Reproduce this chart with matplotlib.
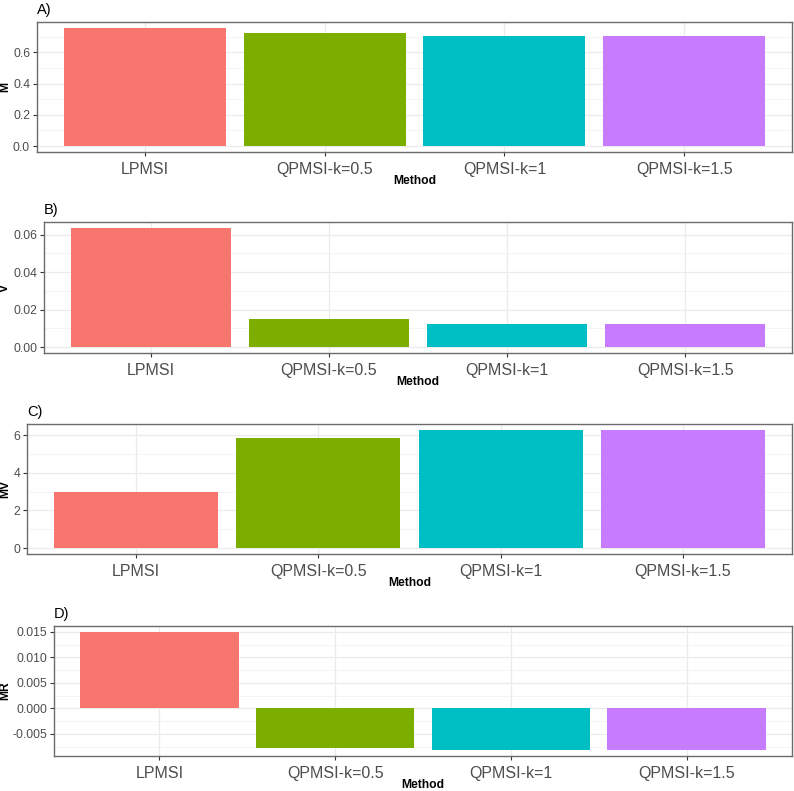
import numpy as np
import matplotlib
matplotlib.use("Agg")
import matplotlib.pyplot as plt
from matplotlib.ticker import MultipleLocator, FormatStrFormatter

plt.rcParams["font.family"] = ["Liberation Sans", "DejaVu Sans"]
plt.rcParams["axes.unicode_minus"] = False

methods = ["LPMSI", "QPMSI-k=0.5", "QPMSI-k=1", "QPMSI-k=1.5"]
colors = ["#F8766D", "#7CAE00", "#00BFC4", "#C77CFF"]

M = [0.757, 0.722, 0.704, 0.704]
V = [0.0635, 0.0150, 0.0125, 0.0125]
MV = [2.99, 5.86, 6.28, 6.28]
MR = [0.0150, -0.0077, -0.0082, -0.0082]

# panel: tag, y label, values, major step, minor step, tick format, box (left, top, right, bottom) in px
panels = [
    ("A)", "M", M, 0.2, 0.1, "%.1f", (37, 22, 792, 152)),
    ("B)", "V", V, 0.02, 0.01, "%.2f", (44, 222, 792, 353)),
    ("C)", "MV", MV, 2, 1, "%d", (27, 424, 792, 554)),
    ("D)", "MR", MR, 0.005, 0.0025, "%.3f", (54, 626, 792, 756)),
]

W, H = 794, 791
fig = plt.figure(figsize=(W / 100, H / 100), dpi=100)

border = "#6b6b6b"
for tag, ylab, vals, major, minor, fmt, (l, t, r, b) in panels:
    ax = fig.add_axes([l / W, 1 - b / H, (r - l) / W, (b - t) / H])
    x = np.arange(len(methods))
    ax.bar(x, vals, width=0.9, color=colors, zorder=3)

    lo = min(0, min(vals))
    hi = max(0, max(vals))
    pad = (hi - lo) * 0.05
    ax.set_ylim(lo - pad, hi + pad)
    ax.set_xlim(-0.6, len(methods) - 0.4)

    ax.set_xticks(x)
    ax.set_xticklabels(methods)
    ax.yaxis.set_major_locator(MultipleLocator(major))
    ax.yaxis.set_minor_locator(MultipleLocator(minor))
    ax.yaxis.set_major_formatter(FormatStrFormatter(fmt))

    ax.grid(which="major", color="#EBEBEB", linewidth=0.9, zorder=0)
    ax.grid(which="minor", axis="y", color="#F2F2F2", linewidth=0.6, zorder=0)
    ax.set_axisbelow(True)

    ax.tick_params(axis="x", which="major", length=3, width=0.8, color="#333333",
                   labelsize=11.5, labelcolor="#4D4D4D", pad=4)
    ax.tick_params(axis="y", which="major", length=3, width=0.8, color="#333333",
                   labelsize=8.8, labelcolor="#4D4D4D", pad=2)
    ax.tick_params(axis="y", which="minor", length=0)

    for s in ax.spines.values():
        s.set_color(border)
        s.set_linewidth(1.0)

    ax.set_xlabel("Method", fontsize=8.7, fontweight="bold", va="top")
    ax.xaxis.set_label_coords(0.5, -23 / (b - t))
    ax.set_ylabel(ylab, fontsize=8.7, fontweight="bold")
    ax.yaxis.set_label_coords((11 - l) / (r - l), 0.5)
    ax.set_title(tag, loc="left", fontsize=10.5, pad=6)

fig.savefig("out.png", dpi=100)
